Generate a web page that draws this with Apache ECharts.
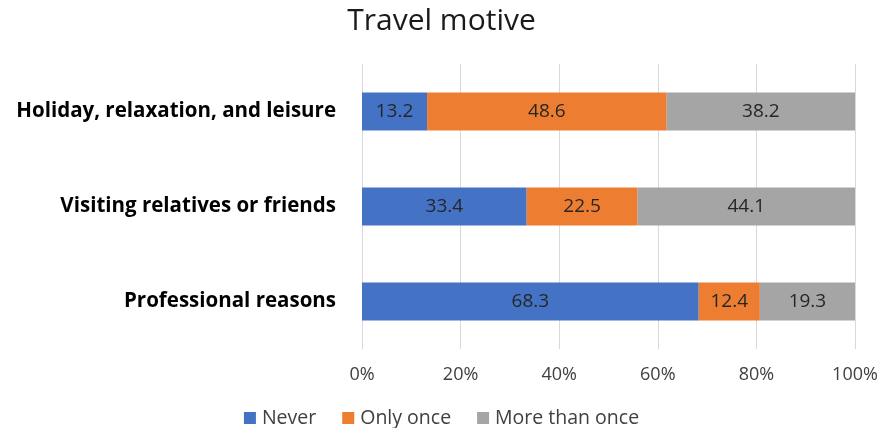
<!DOCTYPE html>
<html>
<head>
<meta charset="utf-8">
<script src="https://cdn.jsdelivr.net/npm/echarts@6/dist/echarts.min.js"></script>
<style>
  html, body { margin: 0; padding: 0; background: #fff; }
  #chart { width: 883px; height: 428px; }
</style>
</head>
<body>
<div id="chart"></div>
<script>
// Travel motive: share of respondents per frequency, per motive
const categories = ['Holiday, relaxation, and leisure', 'Visiting relatives or friends', 'Professional reasons'];
const seriesNames = ['Never', 'Only once', 'More than once'];
const never = [13.2, 33.4, 68.3];
const onlyOnce = [48.6, 22.5, 12.4];
const moreThanOnce = [38.2, 44.1, 19.3];
const tickLabels = ['0%', '20%', '40%', '60%', '80%', '100%'];

const colors = ['#4472C4', '#ED7D31', '#A5A5A5'];
const FONT = '"Open Sans", "Liberation Sans", sans-serif';

const chart = echarts.init(document.getElementById('chart'), null, { renderer: 'canvas' });

function makeSeries(name, values, color) {
  return {
    name: name,
    type: 'bar',
    stack: 'total',
    data: values,
    barWidth: 38,
    itemStyle: { color: color },
    label: {
      show: true,
      position: 'inside',
      color: '#262626',
      fontFamily: FONT,
      fontSize: 19,
      formatter: p => p.value.toFixed(1)
    },
    emphasis: { disabled: true }
  };
}

chart.setOption({
  animation: false,
  title: {
    text: 'Travel motive',
    left: 'center',
    top: 1,
    textStyle: { fontFamily: FONT, fontSize: 30, fontWeight: 'normal', color: '#1a1a1a' }
  },
  legend: {
    bottom: -5,
    left: 'center',
    itemWidth: 12,
    itemHeight: 12,
    itemGap: 26,
    icon: 'rect',
    textStyle: { fontFamily: FONT, fontSize: 19.5, color: '#404040', padding: [0, 0, 0, 1] },
    data: seriesNames
  },
  grid: { left: 362, right: 28, top: 64, bottom: 79, containLabel: false },
  xAxis: {
    type: 'value',
    min: 0,
    max: 100,
    interval: 20,
    axisLine: { show: false },
    axisTick: { show: false },
    splitLine: { lineStyle: { color: '#d9d9d9', width: 1 } },
    axisLabel: {
      fontFamily: FONT,
      fontSize: 18,
      color: '#404040',
      margin: 17,
      formatter: v => tickLabels[Math.round(v / 20)]
    }
  },
  yAxis: {
    type: 'category',
    inverse: true,
    data: categories,
    axisLine: { show: false },
    axisTick: { show: false },
    axisLabel: {
      fontFamily: FONT,
      fontSize: 20.5,
      fontWeight: 'bold',
      color: '#000',
      margin: 26
    }
  },
  series: [
    makeSeries(seriesNames[0], never, colors[0]),
    makeSeries(seriesNames[1], onlyOnce, colors[1]),
    makeSeries(seriesNames[2], moreThanOnce, colors[2])
  ]
});
</script>
</body>
</html>
